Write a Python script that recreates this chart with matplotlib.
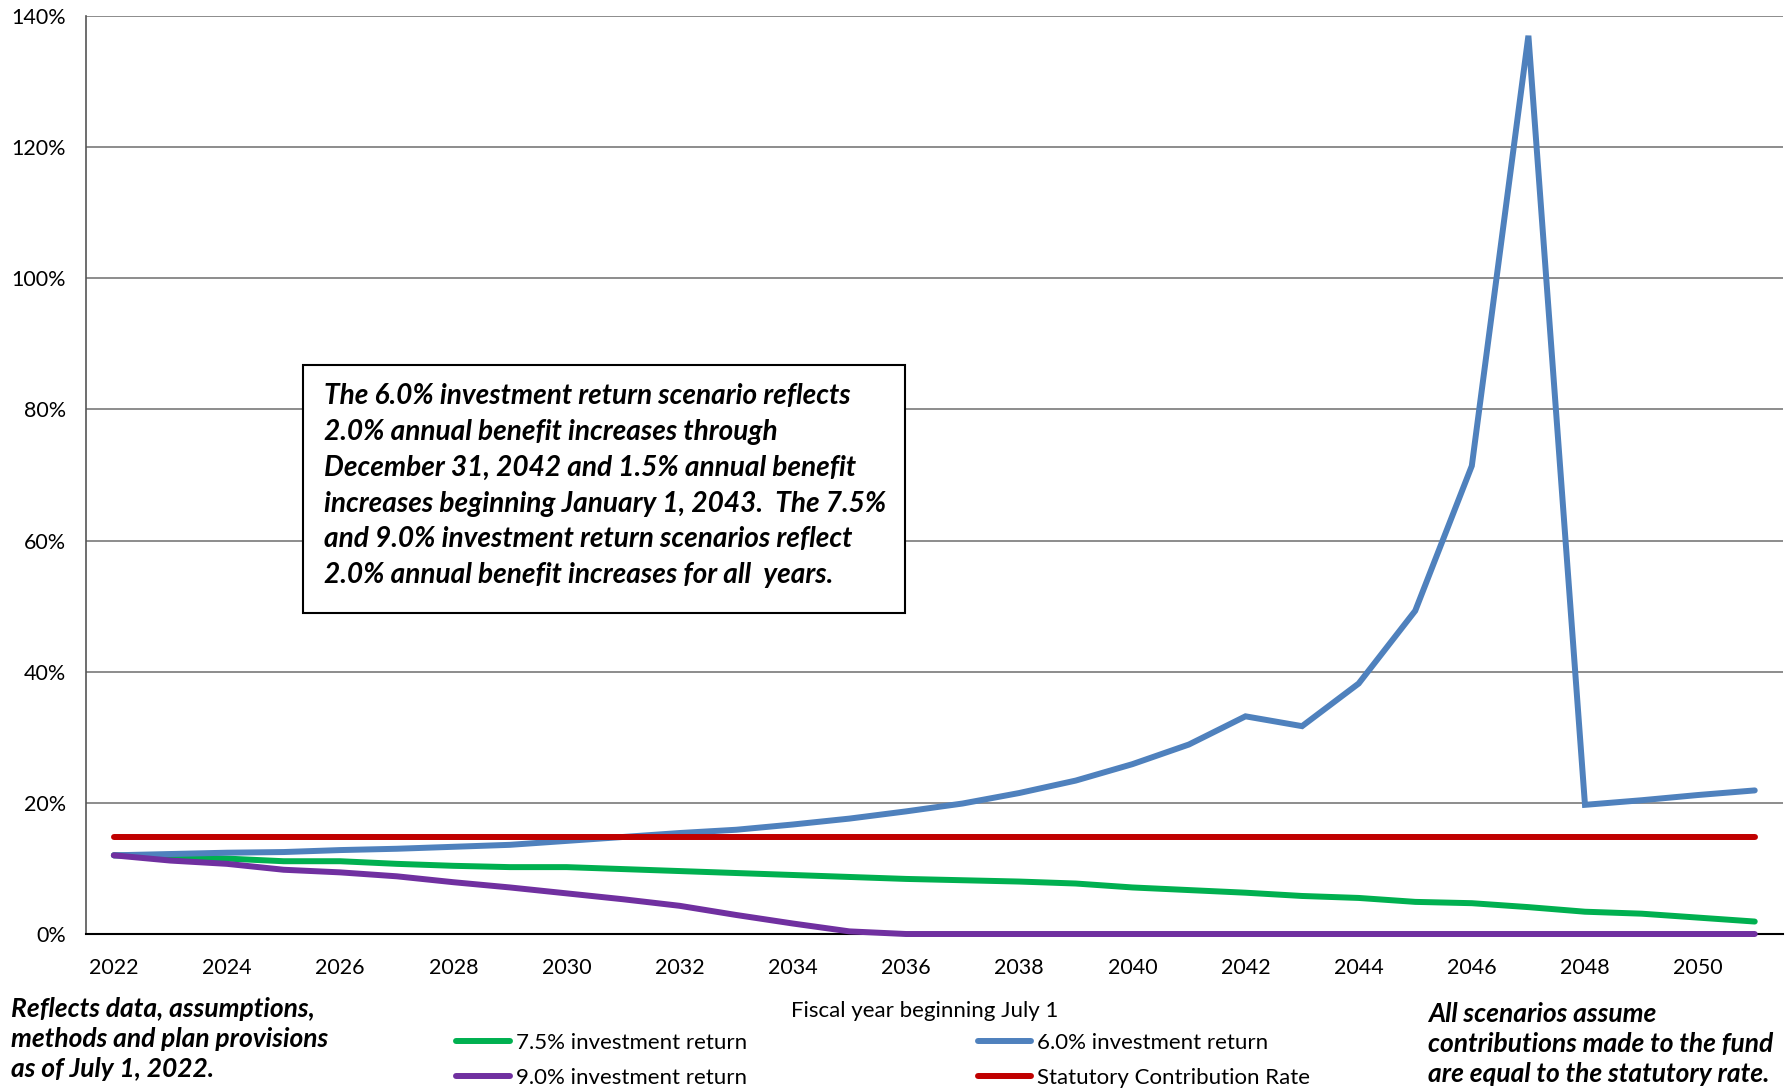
import matplotlib.pyplot as plt
from matplotlib.patches import Rectangle
from matplotlib.lines import Line2D
from matplotlib.ticker import FuncFormatter

plt.rcParams['font.family'] = ['Lato', 'DejaVu Sans']

years = list(range(2022, 2052))

# 7.5% investment return
ret_75 = [12.0, 11.8, 11.5, 11.1, 11.1, 10.7, 10.4, 10.2, 10.2, 9.9,
          9.6, 9.3, 9.0, 8.7, 8.4, 8.2, 8.0, 7.7, 7.1, 6.7,
          6.3, 5.8, 5.5, 4.9, 4.7, 4.1, 3.4, 3.1, 2.5, 1.9]
# 6.0% investment return
ret_60 = [12.0, 12.2, 12.4, 12.5, 12.8, 13.0, 13.3, 13.6, 14.2, 14.8,
          15.4, 15.9, 16.7, 17.6, 18.7, 19.9, 21.5, 23.4, 25.9, 28.9,
          33.2, 31.7, 38.2, 49.3, 71.4, 137.0, 19.7, 20.4, 21.2, 21.9]
# 9.0% investment return
ret_90 = [12.0, 11.2, 10.7, 9.8, 9.4, 8.8, 7.9, 7.1, 6.2, 5.3,
          4.3, 2.9, 1.6, 0.4, 0.0, 0.0, 0.0, 0.0, 0.0, 0.0,
          0.0, 0.0, 0.0, 0.0, 0.0, 0.0, 0.0, 0.0, 0.0, 0.0]
# statutory contribution rate
statutory = [14.8] * len(years)

fig = plt.figure(figsize=(17.9, 10.91), dpi=100)
ax = fig.add_axes([0.0478, 0.1439, 0.9483, 0.8414])

lw = 4.3
ax.plot(years, ret_75, color='#00B050', lw=lw, solid_capstyle='round', zorder=3, clip_on=False)
ax.plot(years, ret_60, color='#4F81BD', lw=lw, solid_capstyle='round', solid_joinstyle='miter', zorder=4, clip_on=False)
ax.plot(years, statutory, color='#C00000', lw=lw, solid_capstyle='round', zorder=5, clip_on=False)
ax.plot(years, ret_90, color='#7030A0', lw=lw, solid_capstyle='round', zorder=6, clip_on=False)

ax.set_xlim(2021.5, 2051.5)
ax.set_ylim(0, 140)
ax.set_xticks(range(2022, 2051, 2))
ax.set_yticks(range(0, 141, 20))
ax.yaxis.set_major_formatter(FuncFormatter(lambda v, p: f'{v:.0f}%'))
ax.tick_params(axis='both', length=0, labelsize=15.5, colors='black')
ax.tick_params(axis='x', pad=17.5)
ax.tick_params(axis='y', pad=14)
ax.grid(axis='y', color='#8c8c8c', lw=1.4)
ax.set_axisbelow(True)
for s in ['top', 'right']:
    ax.spines[s].set_visible(False)
ax.spines['left'].set_color('#555555')
ax.spines['left'].set_linewidth(1.2)
ax.spines['bottom'].set_color('black')
ax.spines['bottom'].set_linewidth(1.5)

# note box
fig.add_artist(Rectangle((0.169, 0.4381), 0.3366, 0.2273, transform=fig.transFigure,
                         facecolor='white', edgecolor='black', lw=1.5, zorder=10))
note = ("The 6.0% investment return scenario reflects\n"
        "2.0% annual benefit increases through\n"
        "December 31, 2042 and 1.5% annual benefit\n"
        "increases beginning January 1, 2043.  The 7.5%\n"
        "and 9.0% investment return scenarios reflect\n"
        "2.0% annual benefit increases for all  years.")
fig.text(0.181, 0.649, note, fontsize=20.2, fontweight='bold', style='italic',
         va='top', ha='left', linespacing=1.47, zorder=11)

fig.text(0.5167, 0.0733, 'Fiscal year beginning July 1', fontsize=16, ha='center', va='center')

fig.text(0.006, 0.0477, "Reflects data, assumptions,\nmethods and plan provisions\nas of July 1, 2022.",
         fontsize=19, fontweight='bold', style='italic', ha='left', va='center', linespacing=1.28)
fig.text(0.798, 0.043, "All scenarios assume\ncontributions made to the fund\nare equal to the statutory rate.",
         fontsize=19, fontweight='bold', style='italic', ha='left', va='center', linespacing=1.3)

handles = [Line2D([], [], color='#00B050', lw=lw, solid_capstyle='round'),
           Line2D([], [], color='#7030A0', lw=lw, solid_capstyle='round'),
           Line2D([], [], color='#4F81BD', lw=lw, solid_capstyle='round'),
           Line2D([], [], color='#C00000', lw=lw, solid_capstyle='round')]
labels = ['7.5% investment return', '9.0% investment return',
          '6.0% investment return', 'Statutory Contribution Rate']
fig.legend(handles, labels, ncol=2, loc='center', bbox_to_anchor=(0.4934, 0.028),
           frameon=False, fontsize=16, handlelength=2.4, handletextpad=0.26,
           columnspacing=10.4, labelspacing=0.7, borderpad=0, borderaxespad=0)

fig.savefig('out.png', dpi=100)
